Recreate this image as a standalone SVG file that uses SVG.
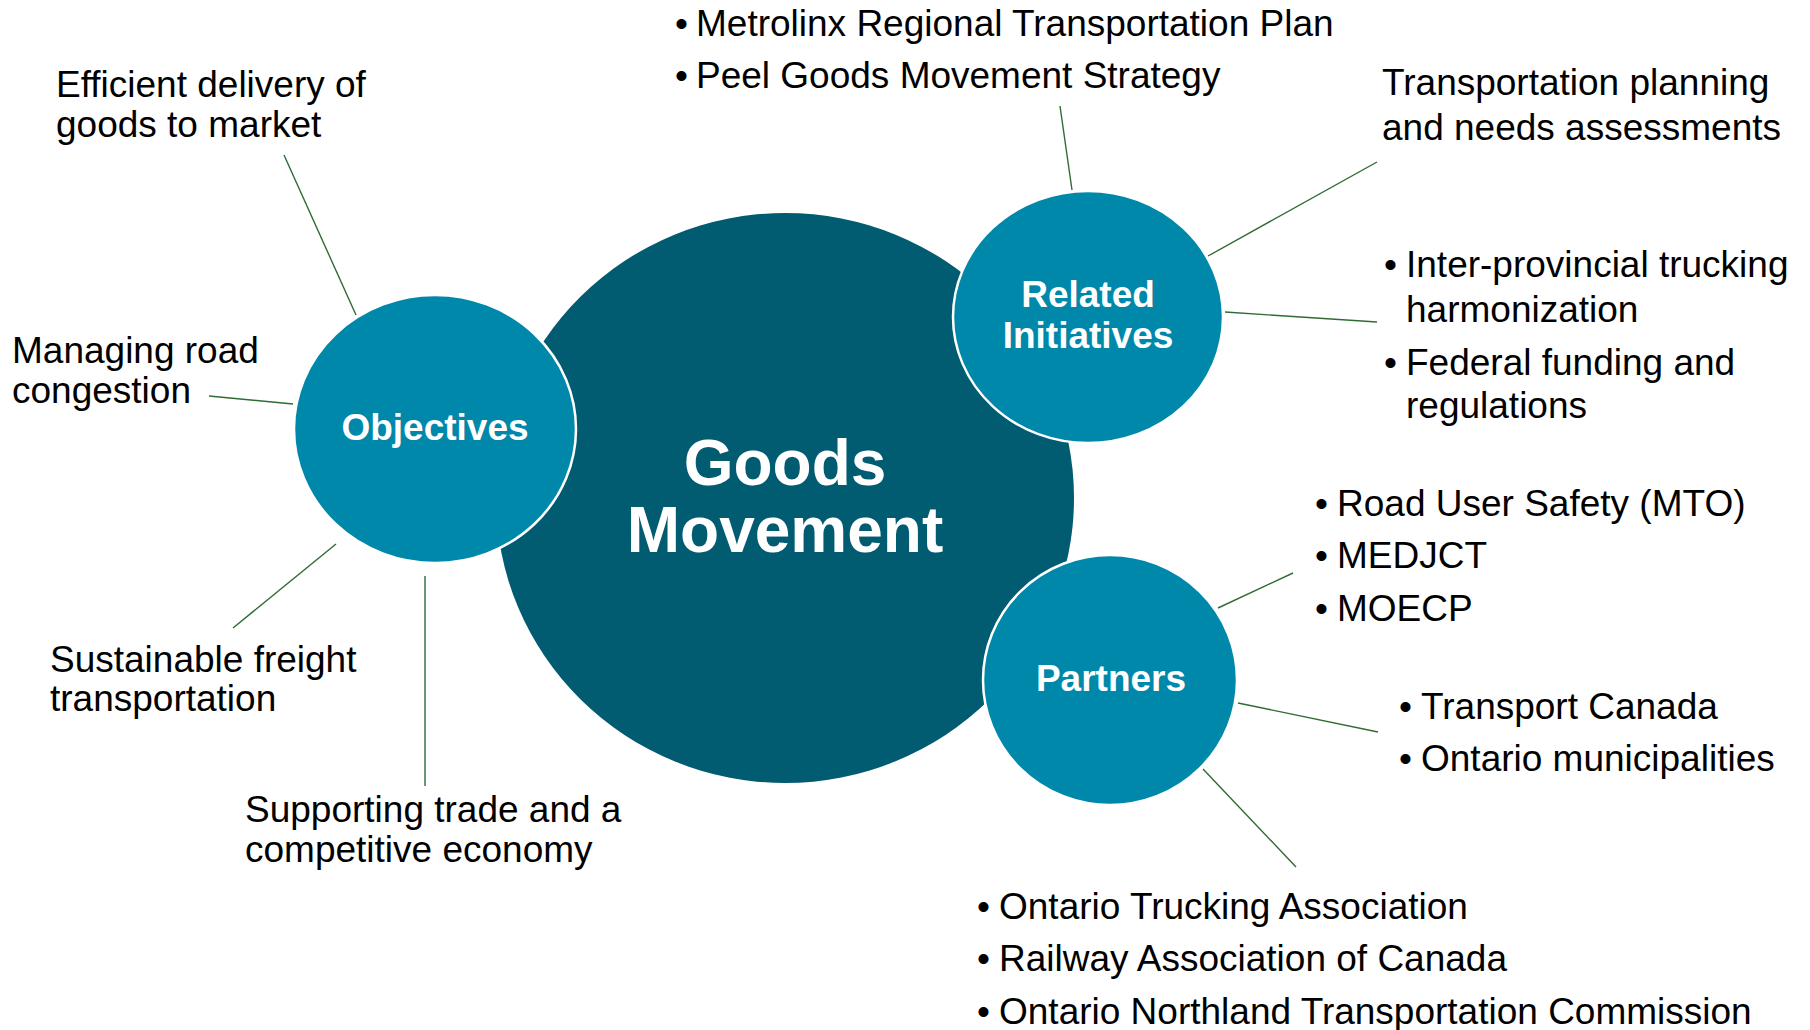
<svg xmlns="http://www.w3.org/2000/svg" width="1810" height="1030" viewBox="0 0 1810 1030">
  <style>
    .hub { fill: #015b71; }
    .bubble { fill: #0088aa; stroke: #ffffff; stroke-width: 2.5; }
    .title { font-family: "Liberation Sans", Arial, sans-serif; font-weight: bold; fill: #ffffff; text-anchor: middle; }
    .label { font-family: "Liberation Sans", Arial, sans-serif; font-size: 37px; fill: #000000; }
    .link { stroke: #2f6b33; stroke-width: 1.4; fill: none; }
  </style>
  <rect width="1810" height="1030" fill="#ffffff"/>

  <!-- connectors from bubbles to their labels -->
  <g id="connectors">
    <line class="link" x1="284" y1="155" x2="356" y2="315"/>
    <line class="link" x1="209" y1="396" x2="293" y2="404"/>
    <line class="link" x1="336" y1="544" x2="233" y2="628"/>
    <line class="link" x1="425" y1="576" x2="425" y2="786"/>
    <line class="link" x1="1060" y1="106" x2="1072" y2="190"/>
    <line class="link" x1="1377" y1="162" x2="1208" y2="256"/>
    <line class="link" x1="1225" y1="312" x2="1377" y2="322"/>
    <line class="link" x1="1293" y1="573" x2="1218" y2="608"/>
    <line class="link" x1="1238" y1="703" x2="1378" y2="732"/>
    <line class="link" x1="1203" y1="769" x2="1296" y2="867"/>
  </g>

  <!-- central hub -->
  <g id="goods-movement">
    <ellipse class="hub" cx="785" cy="498" rx="289" ry="285"/>
    <text class="title" font-size="64" x="785" y="485">Goods</text>
    <text class="title" font-size="64" x="785" y="552">Movement</text>
  </g>

  <g id="objectives">
    <ellipse class="bubble" cx="435" cy="429" rx="141" ry="134"/>
    <text class="title" font-size="37" x="435" y="440">Objectives</text>
  </g>

  <g id="related-initiatives">
    <ellipse class="bubble" cx="1088" cy="317" rx="135" ry="126"/>
    <text class="title" font-size="37" x="1088" y="307">Related</text>
    <text class="title" font-size="37" x="1088" y="348">Initiatives</text>
  </g>

  <g id="partners">
    <ellipse class="bubble" cx="1110" cy="680" rx="127" ry="125"/>
    <text class="title" font-size="37" x="1111" y="691">Partners</text>
  </g>

  <!-- objective labels -->
  <g id="obj-efficient-delivery">
    <text class="label" x="56" y="97">Efficient delivery of</text>
    <text class="label" x="56" y="137">goods to market</text>
  </g>
  <g id="obj-road-congestion">
    <text class="label" x="12" y="363">Managing road</text>
    <text class="label" x="12" y="403">congestion</text>
  </g>
  <g id="obj-sustainable-freight">
    <text class="label" x="50" y="672">Sustainable freight</text>
    <text class="label" x="50" y="711">transportation</text>
  </g>
  <g id="obj-supporting-trade">
    <text class="label" x="245" y="822">Supporting trade and a</text>
    <text class="label" x="245" y="862">competitive economy</text>
  </g>

  <!-- related initiative labels -->
  <g id="ri-plans">
    <text class="label" x="675" y="36">•</text>
    <text class="label" x="696" y="36">Metrolinx Regional Transportation Plan</text>
    <text class="label" x="675" y="88">•</text>
    <text class="label" x="696" y="88">Peel Goods Movement Strategy</text>
  </g>
  <g id="ri-planning">
    <text class="label" x="1382" y="95">Transportation planning</text>
    <text class="label" x="1382" y="140">and needs assessments</text>
  </g>
  <g id="ri-federal">
    <text class="label" x="1384" y="277">•</text>
    <text class="label" x="1406" y="277">Inter-provincial trucking</text>
    <text class="label" x="1406" y="322">harmonization</text>
    <text class="label" x="1384" y="375">•</text>
    <text class="label" x="1406" y="375">Federal funding and</text>
    <text class="label" x="1406" y="418">regulations</text>
  </g>

  <!-- partner labels -->
  <g id="pt-ministries">
    <text class="label" x="1315" y="516">•</text>
    <text class="label" x="1337" y="516">Road User Safety (MTO)</text>
    <text class="label" x="1315" y="568">•</text>
    <text class="label" x="1337" y="568">MEDJCT</text>
    <text class="label" x="1315" y="621">•</text>
    <text class="label" x="1337" y="621">MOECP</text>
  </g>
  <g id="pt-government">
    <text class="label" x="1399" y="719">•</text>
    <text class="label" x="1421" y="719">Transport Canada</text>
    <text class="label" x="1399" y="771">•</text>
    <text class="label" x="1421" y="771">Ontario municipalities</text>
  </g>
  <g id="pt-associations">
    <text class="label" x="977" y="919">•</text>
    <text class="label" x="999" y="919">Ontario Trucking Association</text>
    <text class="label" x="977" y="971">•</text>
    <text class="label" x="999" y="971">Railway Association of Canada</text>
    <text class="label" x="977" y="1024">•</text>
    <text class="label" x="999" y="1024">Ontario Northland Transportation Commission</text>
  </g>
</svg>
